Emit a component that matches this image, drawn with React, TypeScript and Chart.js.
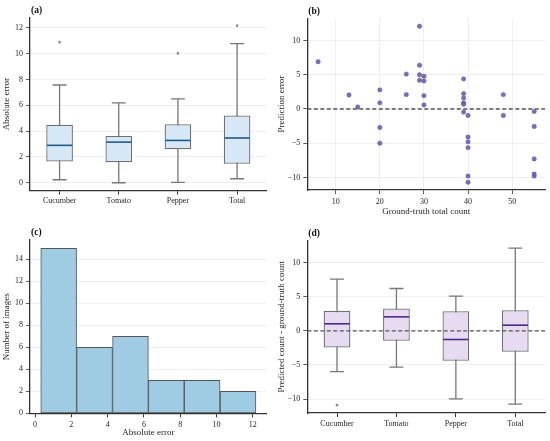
import React, { useEffect, useRef } from "react";
import { Chart, registerables } from "chart.js";

Chart.register(...registerables);

const SERIF = "'Liberation Serif', 'DejaVu Serif', serif";
Chart.defaults.font.family = SERIF;
Chart.defaults.color = "#262626";

// shared categories for the two box plots
const groups = ["Cucumber", "Tomato", "Pepper", "Total"];

// (a) absolute error box plot
const absMin = [0.23, 0.0, 0.03, 0.31];
const absQ1 = [1.65, 1.58, 2.59, 1.47];
const absMedian = [2.9, 3.15, 3.28, 3.47];
const absQ3 = [4.5, 3.62, 4.53, 5.22];
const absMax = [7.58, 6.2, 6.5, 10.78];
const absOutliers = [10.9, null, 10.03, 12.18];
const absTicks = [0, 2, 4, 6, 8, 10, 12];

// (b) prediction error vs ground-truth count
const truthCount = [6, 13, 15, 20, 20, 20, 20, 26, 26, 29, 29, 29, 29, 30, 30, 30, 30, 39, 39, 39, 39, 39, 39, 40, 40, 40, 40, 40, 40, 48, 48, 55, 55, 55, 55, 55];
const predError = [6.9, 2.05, 0.3, 2.8, 0.9, -2.7, -5.0, 5.1, 2.1, 12.1, 6.4, 5.0, 4.2, 4.8, 4.1, 1.95, 0.6, 4.4, 2.25, 1.6, 0.9, 0.7, -0.45, -0.95, -4.1, -4.8, -5.65, -9.8, -10.7, 2.1, -0.95, -0.35, -2.55, -7.3, -9.5, -9.8];
const countTicks = [10, 20, 30, 40, 50];
const errorTicks = [-10, -5, 0, 5, 10];

// (c) histogram of absolute error
const binEdges = [0.31, 2.29, 4.27, 6.25, 8.22, 10.2, 12.18];
const binCounts = [15, 6, 7, 3, 3, 2];
const histXTicks = [0, 2, 4, 6, 8, 10, 12];
const histYTicks = [0, 2, 4, 6, 8, 10, 12, 14];

// (d) signed difference box plot
const diffMin = [-5.97, -5.33, -9.98, -10.76];
const diffQ1 = [-2.44, -1.47, -4.4, -3.08];
const diffMedian = [1.03, 2.05, -1.27, 0.83];
const diffQ3 = [2.93, 3.28, 2.89, 3.03];
const diffMax = [7.58, 6.21, 5.09, 12.13];
const diffOutliers = [-10.9, null, null, null];

const fmt = (v: any) => String(v).replace("-", "\u2212");

const gridOn = { color: "#ebebeb", lineWidth: 0.8, tickColor: "#333", tickLength: 4 };
const gridOff = { drawOnChartArea: false, offset: false, tickColor: "#333", tickLength: 4 };
const border = { color: "#333", width: 1.3 };

function linearAxis(min: number, max: number, ticks: number[], size: number, horizontal: boolean, grid: any, title?: string, titlePad = 2) {
  return {
    type: "linear",
    min,
    max,
    offset: false,
    grid,
    border,
    afterBuildTicks: (s: any) => {
      s.ticks = ticks.map((v) => ({ value: v }));
    },
    afterFit: (s: any) => {
      if (horizontal) s.height = size;
      else s.width = size;
    },
    ticks: { font: { size: 8 }, padding: 3, callback: fmt, maxRotation: 0 },
    title: title
      ? { display: true, text: title, font: { size: 9 }, padding: horizontal ? { top: 0, bottom: titlePad } : { top: titlePad, bottom: 0 } }
      : { display: false },
  };
}

const panelLabel = (text: string) => ({
  id: "panelLabel",
  afterDraw(chart: any) {
    const { ctx, chartArea } = chart;
    ctx.save();
    ctx.font = `bold 9.5px ${SERIF}`;
    ctx.fillStyle = "#111";
    ctx.textBaseline = "middle";
    ctx.fillText(text, chartArea.left + 1, chartArea.top - 7);
    ctx.restore();
  },
});

const zeroLine = {
  id: "zeroLine",
  afterDatasetsDraw(chart: any) {
    const { ctx, chartArea, scales } = chart;
    const y = scales.y.getPixelForValue(0);
    ctx.save();
    ctx.strokeStyle = "#555";
    ctx.lineWidth = 1.3;
    ctx.setLineDash([4, 2.5]);
    ctx.beginPath();
    ctx.moveTo(chartArea.left, y);
    ctx.lineTo(chartArea.right, y);
    ctx.stroke();
    ctx.restore();
  },
};

const boxParts = (lo: number[], med: number[], hi: number[], medianColor: string) => ({
  id: "boxParts",
  beforeDatasetsDraw(chart: any) {
    const { ctx, scales } = chart;
    const meta = chart.getDatasetMeta(0);
    ctx.save();
    ctx.strokeStyle = "#777";
    ctx.lineWidth = 1.3;
    meta.data.forEach((bar: any, i: number) => {
      const { x, width } = bar.getProps(["x", "width"], true);
      const cap = width * 0.26;
      const yl = scales.y.getPixelForValue(lo[i]);
      const yh = scales.y.getPixelForValue(hi[i]);
      ctx.beginPath();
      ctx.moveTo(x, yl);
      ctx.lineTo(x, yh);
      ctx.moveTo(x - cap, yl);
      ctx.lineTo(x + cap, yl);
      ctx.moveTo(x - cap, yh);
      ctx.lineTo(x + cap, yh);
      ctx.stroke();
    });
    ctx.restore();
  },
  afterDatasetsDraw(chart: any) {
    const { ctx, scales } = chart;
    const meta = chart.getDatasetMeta(0);
    ctx.save();
    ctx.strokeStyle = medianColor;
    ctx.lineWidth = 1.6;
    meta.data.forEach((bar: any, i: number) => {
      const { x, width } = bar.getProps(["x", "width"], true);
      const ym = scales.y.getPixelForValue(med[i]);
      ctx.beginPath();
      ctx.moveTo(x - width / 2 + 0.7, ym);
      ctx.lineTo(x + width / 2 - 0.7, ym);
      ctx.stroke();
    });
    ctx.restore();
  },
});

function boxConfig(opts: {
  q1: number[]; q3: number[]; lo: number[]; hi: number[]; med: number[]; out: (number | null)[];
  fill: string; medianColor: string; yMin: number; yMax: number; ticks: number[]; yTitle: string;
  yWidth: number; xHeight: number; padding: any; label: string; zero?: boolean;
}): any {
  const plugins: any[] = [boxParts(opts.lo, opts.med, opts.hi, opts.medianColor)];
  if (opts.zero) plugins.push(zeroLine);
  plugins.push(panelLabel(opts.label));
  return {
    type: "bar",
    data: {
      labels: groups,
      datasets: [
        {
          type: "bar",
          data: groups.map((_, i) => [opts.q1[i], opts.q3[i]]),
          backgroundColor: opts.fill,
          borderColor: "#707070",
          borderWidth: 1.3,
          borderSkipped: false,
          barPercentage: 0.45,
          categoryPercentage: 1,
        },
        {
          type: "line",
          data: opts.out,
          showLine: false,
          pointRadius: 1.3,
          pointBackgroundColor: "#8a8a8a",
          pointBorderColor: "#8a8a8a",
          pointBorderWidth: 0,
        },
      ],
    },
    options: {
      animation: false,
      responsive: true,
      maintainAspectRatio: false,
      layout: { padding: opts.padding },
      plugins: { legend: { display: false }, tooltip: { enabled: false } },
      scales: {
        x: {
          type: "category",
          offset: true,
          grid: gridOff,
          border,
          afterFit: (s: any) => {
            s.height = opts.xHeight;
          },
          ticks: { font: { size: 8 }, padding: 2, maxRotation: 0 },
        },
        y: linearAxis(opts.yMin, opts.yMax, opts.ticks, opts.yWidth, false, gridOn, opts.yTitle, 1.5),
      },
    },
    plugins,
  };
}

const buildA = () =>
  boxConfig({
    q1: absQ1, q3: absQ3, lo: absMin, hi: absMax, med: absMedian, out: absOutliers,
    fill: "#d6e8f5", medianColor: "#1f5a8c", yMin: -0.61, yMax: 12.79, ticks: absTicks,
    yTitle: "Absolute error", yWidth: 30, xHeight: 31.4,
    padding: { top: 17.8, right: 8.3, bottom: 0, left: 0 }, label: "(a)",
  });

const buildD = () =>
  boxConfig({
    q1: diffQ1, q3: diffQ3, lo: diffMin, hi: diffMax, med: diffMedian, out: diffOutliers,
    fill: "#e6dbf1", medianColor: "#4b2a8f", yMin: -12.05, yMax: 13.28, ticks: errorTicks,
    yTitle: "Predicted count - ground-truth count", yWidth: 32.3, xHeight: 28,
    padding: { top: 18.3, right: 5, bottom: 0, left: 0 }, label: "(d)", zero: true,
  });

const buildB = (): any => ({
  type: "scatter",
  data: {
    datasets: [
      {
        data: truthCount.map((x, i) => ({ x, y: predError[i] })),
        pointRadius: 2.2,
        pointBackgroundColor: "rgba(108, 94, 178, 0.9)",
        pointBorderColor: "rgba(96, 82, 168, 0.9)",
        pointBorderWidth: 0.5,
      },
    ],
  },
  options: {
    animation: false,
    responsive: true,
    maintainAspectRatio: false,
    layout: { padding: { top: 18.4, right: 5, bottom: 0, left: 0 } },
    plugins: { legend: { display: false }, tooltip: { enabled: false } },
    scales: {
      x: linearAxis(3.55, 57.45, countTicks, 32, true, gridOn, "Ground-truth total count", 4.5),
      y: linearAxis(-11.84, 13.24, errorTicks, 32.3, false, gridOn, "Prediction error", 1),
    },
  },
  plugins: [zeroLine, panelLabel("(b)")],
});

const buildC = (): any => ({
  type: "bar",
  data: {
    datasets: [
      {
        data: binCounts.map((c, i) => ({ x: (binEdges[i] + binEdges[i + 1]) / 2, y: c })),
        backgroundColor: "#9fcbe3",
        borderColor: "#555",
        borderWidth: 1,
        borderSkipped: false,
        barPercentage: 1,
        categoryPercentage: 1,
      },
    ],
  },
  options: {
    animation: false,
    responsive: true,
    maintainAspectRatio: false,
    layout: { padding: { top: 18, right: 8.3, bottom: 0, left: 0 } },
    plugins: { legend: { display: false }, tooltip: { enabled: false } },
    scales: {
      x: linearAxis(-0.28, 12.77, histXTicks, 27.7, true, gridOff, "Absolute error", 2.5),
      y: linearAxis(0, 15.75, histYTicks, 30, false, gridOn, "Number of images", 1),
    },
  },
  plugins: [panelLabel("(c)")],
});

function Panel({ left, top, width, height, build }: { left: number; top: number; width: number; height: number; build: () => any }) {
  const canvasRef = useRef<HTMLCanvasElement>(null);

  useEffect(() => {
    if (!canvasRef.current) return;
    const chart = new Chart(canvasRef.current, build());
    return () => chart.destroy();
  }, []);

  return (
    <div style={{ position: "absolute", left, top, width, height }}>
      <canvas ref={canvasRef} />
    </div>
  );
}

export default function App() {
  return (
    <div style={{ position: "absolute", left: 0, top: 0, width: 550, height: 441, background: "#fff" }}>
      <Panel left={0} top={0} width={275} height={222} build={buildA} />
      <Panel left={275} top={0} width={275} height={222} build={buildB} />
      <Panel left={0} top={222} width={275} height={219} build={buildC} />
      <Panel left={275} top={222} width={275} height={219} build={buildD} />
    </div>
  );
}
